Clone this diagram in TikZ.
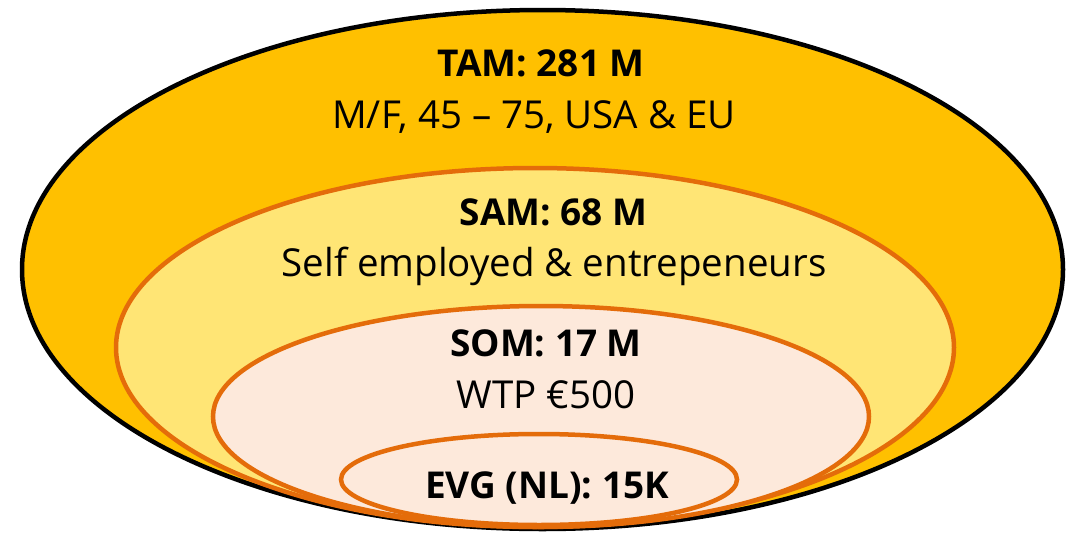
\documentclass[tikz,border=0pt]{standalone}
\usepackage{fontspec}
\setmainfont{Open Sans}
\usepackage{xcolor}
\usepackage{tikz}
\usetikzlibrary{positioning}
\definecolor{tamgold}{HTML}{FFC000}
\definecolor{samyellow}{HTML}{FFE575}
\definecolor{sompeach}{HTML}{FDE9DB}
\definecolor{ringorange}{HTML}{E46C0A}
\tikzstyle{outerring}=[draw=black,line width=4.5pt,fill=tamgold]
\tikzstyle{innerring}=[draw=ringorange,line width=4.5pt]
\tikzstyle{title}=[font=\fontsize{37}{40}\selectfont\bfseries,inner sep=0pt,anchor=base]
\tikzstyle{subtitle}=[font=\fontsize{38.5}{40}\selectfont,inner sep=0pt,anchor=base]

\begin{document}
\begin{tikzpicture}[x=1pt,y=-1pt]

 \useasboundingbox (0,0) rectangle (1074,533);

 %TAM
 \draw[outerring] (542.5,269.5) ellipse [x radius=520.5pt, y radius=259.5pt];

 %SAM, SOM, EVG
  \foreach \cx/\cy/\rx/\ry/\fillc in {535/347.5/419/179.5/samyellow, 541/416.5/328/110.5/sompeach, 539/479.5/198/45.5/sompeach}
          \draw[innerring, fill=\fillc] (\cx,\cy) ellipse [x radius=\rx pt, y radius=\ry pt];

 %labels
   \foreach \x/\y/\name/\label in {541/76/tam/{TAM: 281 M}, 553.5/225/sam/{SAM: 68 M}, 546/356/som/{SOM: 17 M}, 547/498/evg/{EVG (NL): 15K}}
          \node[title] (\name) at (\x,\y) {\label};

 \node[subtitle] (tamsub) at (534,128) {M/F, 45 – 75, USA \& EU};
 \node[subtitle] (samsub) at (554,276) {Self employed \& entrepeneurs};
 \node[subtitle] (somsub) at (546,408) {WTP €500};

\end{tikzpicture}
\end{document}
